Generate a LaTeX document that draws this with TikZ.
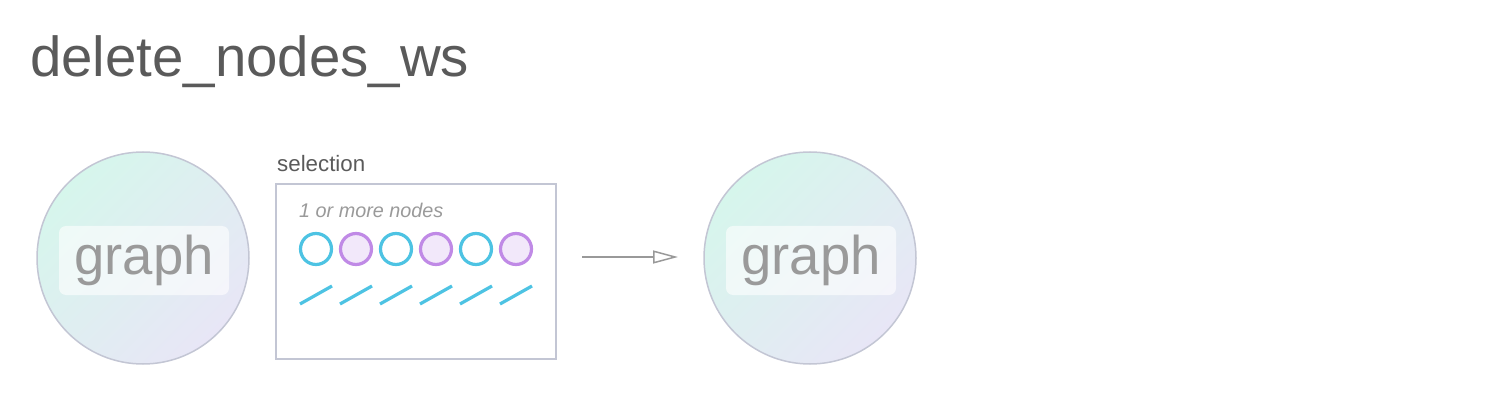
\documentclass[tikz,border=0pt]{standalone}
\usepackage{fontspec}
\setmainfont{Liberation Sans}
\usetikzlibrary{arrows.meta}
\definecolor{titlegray}{HTML}{5A5A5A}
\definecolor{labgray}{HTML}{9A9A9A}
\definecolor{ringgray}{HTML}{C3C6D4}
\definecolor{mint}{HTML}{D6F6EC}
\definecolor{lav}{HTML}{E8E6F6}
\definecolor{cyanc}{HTML}{4DC3E3}
\definecolor{purpc}{HTML}{C08AE6}
\definecolor{purpf}{HTML}{F2E8FA}
\definecolor{arrowgray}{HTML}{999999}
\tikzset{
  graphcircle/.style={circle, minimum size=212pt, inner sep=0pt, outer sep=0pt,
    draw=ringgray, line width=1.5pt, top color=mint, bottom color=lav, shading angle=45},
  graphlabel/.style={rounded corners=7pt, fill=white, fill opacity=0.6, text opacity=1,
    minimum width=170pt, minimum height=69pt, inner sep=0pt, text=labgray,
    font=\fontsize{54.5pt}{54.5pt}\selectfont},
  selbox/.style={draw=ringgray, line width=2pt, minimum width=280pt, minimum height=175pt,
    inner sep=0pt, outer sep=0pt, fill=white},
  cnode/.style={circle, draw=cyanc, line width=3.2pt, minimum size=31pt, inner sep=0pt, fill=white},
  pnode/.style={circle, draw=purpc, line width=3.2pt, minimum size=31pt, inner sep=0pt, fill=purpf},
  edgemark/.style={draw=cyanc, line width=3.2pt},
  flow/.style={draw=arrowgray, line width=1.5pt, -{Triangle[open, length=25pt, width=13pt, line width=1.5pt]}}
}
\begin{document}
\begin{tikzpicture}[x=1pt, y=1pt]
\useasboundingbox (0,0) rectangle (1510,402);
\node[anchor=base west, inner sep=0pt, text=titlegray, font=\fontsize{56.4pt}{56.4pt}\selectfont] (title) at (30,325) {delete\_nodes\_ws};
% input graph
\node[graphcircle] (g1) at (143,144) {};
\node[graphlabel] (g1lab) at (144,141.5) {graph};
% selection
\node[anchor=base west, inner sep=0pt, text=titlegray, font=\fontsize{22.3pt}{22.3pt}\selectfont] (seltitle) at (277,230) {selection};
\node[selbox] (sel) at (416,130.5) {};
\node[anchor=base west, inner sep=0pt, text=labgray, font=\fontsize{19.8pt}{19.8pt}\selectfont\itshape] (selnote) at (299,184) {1 or more nodes};
\foreach \i/\s in {0/cnode,1/pnode,2/cnode,3/pnode,4/cnode,5/pnode}{
  \node[\s] (n\i) at (316+40*\i,153) {};
  \coordinate (ea\i) at (300+40*\i,98);
  \coordinate (eb\i) at (332+40*\i,116);
  \draw[edgemark] (ea\i) -- (eb\i);
}
% output graph
\node[graphcircle] (g2) at (810,144) {};
\node[graphlabel] (g2lab) at (811,141.5) {graph};
% arrow
\coordinate (sx) at ([xshift=26pt]sel.east);
\coordinate (ae) at ([xshift=-26pt,yshift=1pt]g2.west);
\coordinate (as) at (sx |- ae);
\draw[flow] (as) -- (ae);
\end{tikzpicture}
\end{document}
